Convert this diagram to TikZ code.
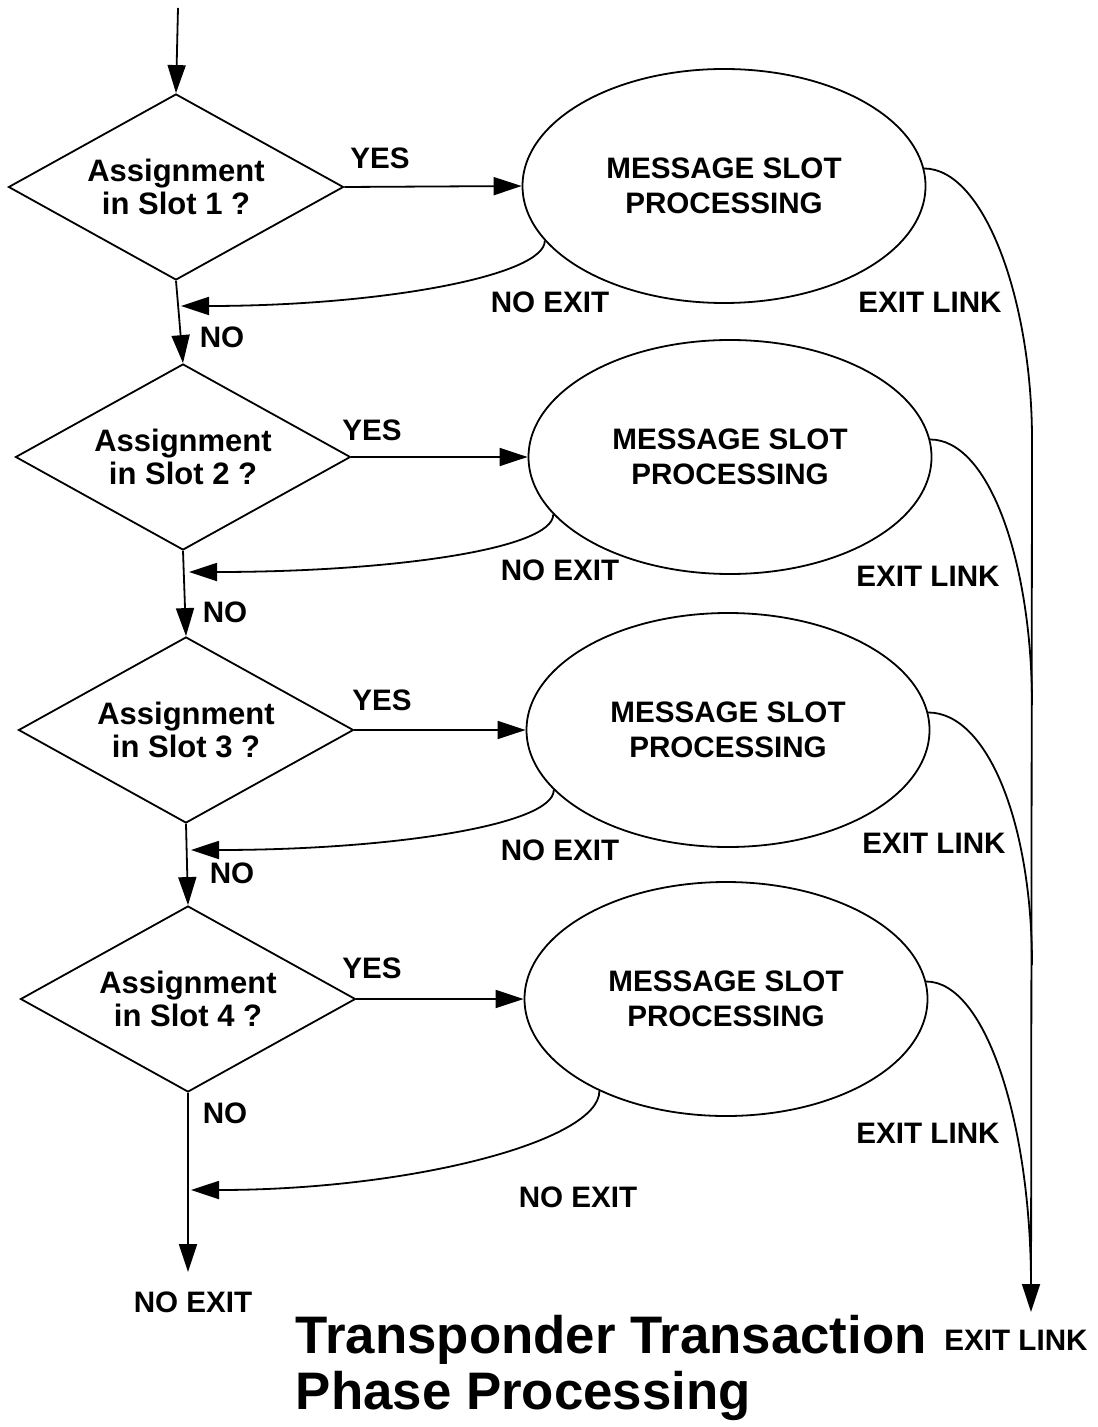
\documentclass[tikz,border=0pt]{standalone}
\usepackage{fontspec}
\setmainfont{Liberation Sans}
\usetikzlibrary{arrows.meta, shapes.geometric}

\tikzset{
  test/.style={diamond, draw, inner sep=0pt, aspect=1.8, minimum width=167.5pt, minimum height=93pt, align=center, font=\fontsize{15.5}{16.5}\selectfont\bfseries},
  proc/.style={ellipse, draw, inner sep=0pt, minimum width=201.5pt, minimum height=117pt, align=center, font=\fontsize{14.8}{17.5}\selectfont\bfseries},
  lbl/.style={inner sep=0pt, font=\fontsize{14.8}{17}\selectfont\bfseries},
}

\begin{document}
\begin{tikzpicture}[x=0.5pt, y=-0.5pt, line width=0.9pt, >={Triangle[length=14pt,width=9pt]}]
			\useasboundingbox (0,0) rectangle (1097,1427);

			% decisions and slot processing
			\node[test] (atest) at (176,187) {Assignment\\in Slot 1 ?};
			\node[test] (btest) at (183,457) {Assignment\\in Slot 2 ?};
			\node[test] (ctest) at (186,730) {Assignment\\in Slot 3 ?};
			\node[test] (dtest) at (188,999) {Assignment\\in Slot 4 ?};
			\node[proc] (aproc) at (724,186) {MESSAGE SLOT\\PROCESSING};
			\node[proc] (bproc) at (730,457) {MESSAGE SLOT\\PROCESSING};
			\node[proc] (cproc) at (728,730) {MESSAGE SLOT\\PROCESSING};
			\node[proc] (dproc) at (726,999) {MESSAGE SLOT\\PROCESSING};

			\coordinate (start) at (178,8);
			\coordinate (ajoin) at (181,306);
			\coordinate (bjoin) at (189,572);
			\coordinate (cjoin) at (191,850);
			\coordinate (djoin) at (191,1190);
			\coordinate (noend) at (188,1272);
			\coordinate (alink) at (1032,440);
			\coordinate (blink) at (1032,705);
			\coordinate (clink) at (1032,965);
			\coordinate (dlink) at (1031,1285);
			\coordinate (linkend) at (1031,1312);

			% labels
			\node[lbl] (ayes) at (380,158) {YES};
			\node[lbl] (byes) at (372,430) {YES};
			\node[lbl] (cyes) at (382,700) {YES};
			\node[lbl] (dyes) at (372,968) {YES};
			\node[lbl] (ano) at (222,337) {NO};
			\node[lbl] (bno) at (225,612) {NO};
			\node[lbl] (cno) at (232,873) {NO};
			\node[lbl] (dno) at (225,1113) {NO};
			\node[lbl] (anoexit) at (550,302) {NO EXIT};
			\node[lbl] (bnoexit) at (560,570) {NO EXIT};
			\node[lbl] (cnoexit) at (560,850) {NO EXIT};
			\node[lbl] (dnoexit) at (578,1197) {NO EXIT};
			\node[lbl] (noexit) at (193,1302) {NO EXIT};
			\node[lbl] (aexit) at (930,302) {EXIT LINK};
			\node[lbl] (bexit) at (928,576) {EXIT LINK};
			\node[lbl] (cexit) at (934,843) {EXIT LINK};
			\node[lbl] (dexit) at (928,1133) {EXIT LINK};
			\node[lbl] (exitlink) at (1016,1340) {EXIT LINK};
			\node[inner sep=0pt, anchor=west, align=left, font=\fontsize{26.4}{27.7}\selectfont\bfseries] (title) at (295,1368) {Transponder Transaction\\Phase Processing};

			\path[->]
			(start) edge (atest.north)
			(atest.east) edge (aproc.west)
			(btest.east) edge (bproc.west)
			(ctest.east) edge (cproc.west)
			(dtest.east) edge (dproc.west)
			(atest.south) edge (btest.north)
			(btest.south) edge (ctest.north)
			(ctest.south) edge (dtest.north)
			(dtest.south) edge (noend)
			(alink) edge (linkend);

			\draw[->] (aproc.197) .. controls +(0,35) and +(200,0) .. (ajoin);
			\draw[->] (bproc.198) .. controls +(0,35) and +(200,0) .. (bjoin);
			\draw[->] (cproc.199) .. controls +(0,35) and +(200,0) .. (cjoin);
			\draw[->] (dproc.216) .. controls +(0,50) and +(220,0) .. (djoin);

			\draw (aproc.5) .. controls +(60,0) and +(0,-140) .. (alink);
			\draw (bproc.5) .. controls +(60,0) and +(0,-140) .. (blink);
			\draw (cproc.5) .. controls +(60,0) and +(0,-140) .. (clink);
			\draw (dproc.5) .. controls +(60,0) and +(0,-160) .. (dlink);
		\end{tikzpicture}
\end{document}
